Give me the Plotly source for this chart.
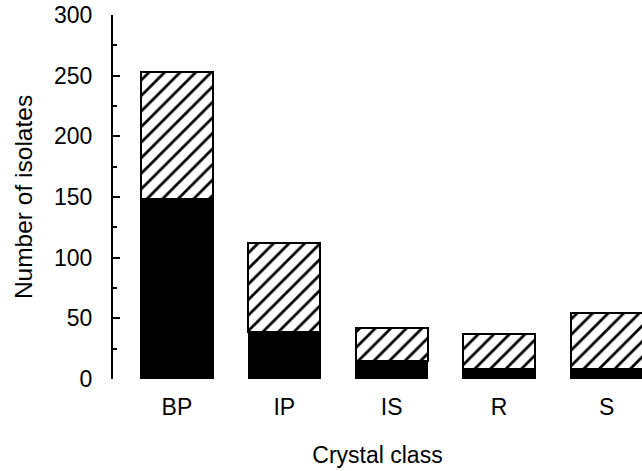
import plotly.graph_objects as go

categories = ["BP", "IP", "IS", "R", "S"]
solid_values = [148, 39, 15, 8, 8]
hatched_values = [105, 73, 27, 29, 46]
y_ticks = [0, 50, 100, 150, 200, 250, 300]

FONT = "Liberation Sans, Arial, sans-serif"

fig = go.Figure()
fig.add_trace(go.Bar(
    x=categories, y=solid_values,
    marker=dict(color="black", line=dict(color="black", width=1.5)),
    showlegend=False,
))
fig.add_trace(go.Bar(
    x=categories, y=hatched_values,
    marker=dict(
        color="white",
        line=dict(color="black", width=2),
        pattern=dict(shape="/", fgcolor="black", bgcolor="white", fgopacity=1,
                     size=11, solidity=0.25),
    ),
    showlegend=False,
))

fig.update_layout(
    width=642, height=471,
    barmode="stack",
    bargap=0.33,
    paper_bgcolor="white", plot_bgcolor="white",
    margin=dict(l=113, r=0, t=15, b=92),
    font=dict(family=FONT, size=23, color="black"),
    xaxis=dict(
        range=[-0.595, 4.33],
        automargin=False,
        showline=False, showgrid=False, zeroline=False, ticks="",
        ticklabelstandoff=12,
        tickfont=dict(size=23),
        title=dict(text="Crystal class", font=dict(size=23), standoff=27),
    ),
    yaxis=dict(
        range=[0, 300],
        automargin=False,
        tickvals=y_ticks,
        ticklabeloverflow="allow",
        showline=True, linecolor="black", linewidth=2,
        ticks="inside", ticklen=7, tickwidth=2, tickcolor="black",
        minor=dict(ticks="inside", dtick=25, ticklen=4, tickwidth=2, tickcolor="black"),
        showgrid=False, zeroline=False,
        ticklabelstandoff=14,
        tickfont=dict(size=23),
        title=dict(text="Number of isolates", font=dict(size=24.5), standoff=14),
    ),
)

fig.write_html("out.html", config={"displayModeBar": False},
               post_script="document.body.style.margin='0px';")
